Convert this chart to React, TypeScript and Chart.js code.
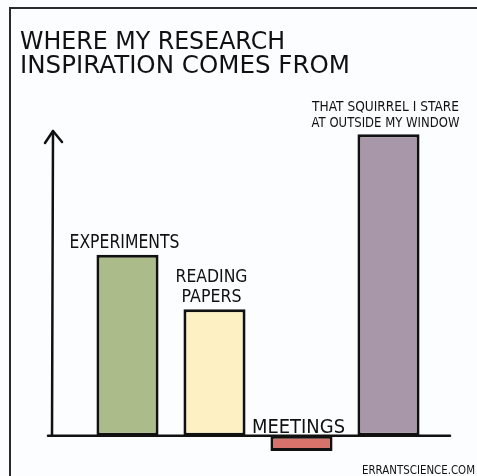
import React, { useEffect, useRef } from 'react';
import { Chart, registerables } from 'chart.js';
Chart.register(...registerables);

const categories = ['Experiments', 'Reading papers', 'Meetings', 'That squirrel I stare at outside my window'];
const barLabelLines = [['EXPERIMENTS'], ['READING', 'PAPERS'], ['MEETINGS'], ['THAT SQUIRREL I STARE', 'AT OUTSIDE MY WINDOW']];
const inspiration = [60, 42, -5, 100];
const barColors = ['#abbb89', '#fdf0c2', '#d8736c', '#a797a8'];
const titleLines = ['WHERE MY RESEARCH', 'INSPIRATION COMES FROM'];
const credit = 'ERRANTSCIENCE.COM';
const yMin = -8;
const yMax = 108;

const FONT = '"DejaVu Sans", sans-serif';
const labelFont = [19, 18, 20, 14];
const labelWidths = [[110], [72, 60], [93], [147, 148]];

const comicPlugin = {
  id: 'comic',
  beforeDraw(chart: any) {
    const { ctx, width, height } = chart;
    ctx.save();
    ctx.fillStyle = '#fcfdff';
    ctx.fillRect(0, 0, width, height);
    ctx.strokeStyle = '#2a2a2a';
    ctx.lineWidth = 2;
    ctx.beginPath();
    ctx.moveTo(10, height);
    ctx.lineTo(10, 8);
    ctx.lineTo(width + 5, 8);
    ctx.stroke();
    ctx.fillStyle = '#111';
    ctx.font = `25px ${FONT}`;
    ctx.textAlign = 'left';
    ctx.textBaseline = 'alphabetic';
    ctx.fillText(titleLines[0], 20, 49, 265);
    ctx.fillText(titleLines[1], 20, 73, 330);
    ctx.font = `13px ${FONT}`;
    ctx.textAlign = 'right';
    ctx.fillText(credit, 475, 474, 113);
    ctx.restore();
  },
  afterDatasetsDraw(chart: any) {
    const { ctx } = chart;
    const yScale = chart.scales.y;
    const base = yScale.getPixelForValue(0);
    ctx.save();
    ctx.strokeStyle = '#111';
    ctx.lineWidth = 2.5;
    ctx.lineCap = 'round';
    ctx.lineJoin = 'round';
    ctx.beginPath();
    ctx.moveTo(52, base);
    ctx.lineTo(53, 131);
    ctx.stroke();
    ctx.beginPath();
    ctx.moveTo(45, 143);
    ctx.lineTo(53, 131);
    ctx.lineTo(62, 142);
    ctx.stroke();
    ctx.beginPath();
    ctx.moveTo(48, base);
    ctx.lineTo(450, base);
    ctx.stroke();
    const meta = chart.getDatasetMeta(0);
    ctx.fillStyle = '#111';
    ctx.textAlign = 'center';
    ctx.textBaseline = 'alphabetic';
    meta.data.forEach((bar: any, i: number) => {
      const top = Math.min(bar.y, bar.base);
      const lines = barLabelLines[i];
      const size = labelFont[i];
      ctx.font = `${size}px ${FONT}`;
      const gap = i === 2 ? 3 : 7;
      const lh = size + 2;
      lines.forEach((t: string, j: number) => {
        const y = top - gap - (lines.length - 1 - j) * lh;
        ctx.fillText(t, bar.x - 3, y, labelWidths[i][j]);
      });
    });
    ctx.restore();
  },
};

export default function App() {
  const ref = useRef<HTMLCanvasElement | null>(null);
  useEffect(() => {
    document.body.style.margin = '0';
    const chart = new Chart(ref.current as HTMLCanvasElement, {
      type: 'bar',
      data: {
        labels: categories,
        datasets: [
          {
            data: inspiration,
            backgroundColor: barColors,
            borderColor: '#111',
            borderWidth: 3,
            borderSkipped: false,
            barPercentage: 0.83,
            categoryPercentage: 0.86,
          },
        ],
      },
      options: {
        responsive: false,
        animation: false,
        layout: { padding: { left: 84, right: 45, top: 110, bottom: 16 } },
        scales: {
          x: { display: false },
          y: { display: false, min: yMin, max: yMax },
        },
        plugins: { legend: { display: false }, tooltip: { enabled: false }, title: { display: false } },
      },
      plugins: [comicPlugin],
    });
    return () => chart.destroy();
  }, []);
  return (
    <div style={{ position: 'absolute', left: 0, top: 0, width: 477, height: 476 }}>
      <canvas ref={ref} width={477} height={476} />
    </div>
  );
}
